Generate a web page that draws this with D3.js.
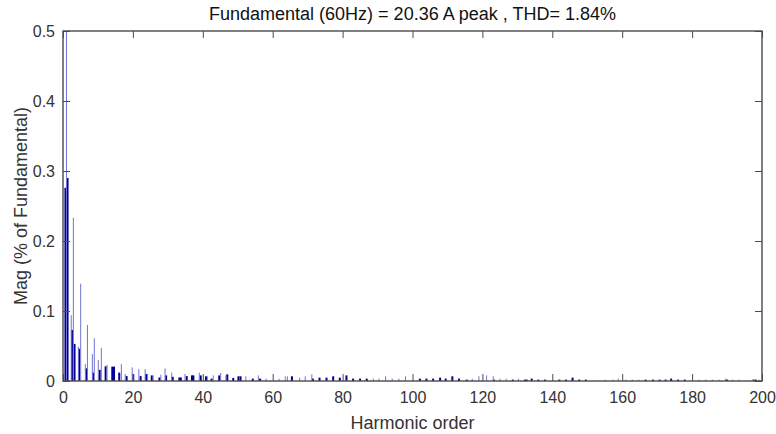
<!DOCTYPE html>
<html><head><meta charset="utf-8">
<script src="https://cdn.jsdelivr.net/npm/d3@7"></script>
<style>
body{margin:0;background:#fff}
svg{display:block}
text{font-family:"Liberation Sans",Arial,Helvetica,sans-serif}
</style>
</head><body>
<svg id="chart" width="776" height="434"></svg>
<script>
// ---- data ----
const titleText = "Fundamental (60Hz) = 20.36 A peak , THD= 1.84%";
const xLabel = "Harmonic order";
const yLabel = "Mag (% of Fundamental)";
const xTicks = [0,20,40,60,80,100,120,140,160,180,200];
const yTicks = [0,0.1,0.2,0.3,0.4,0.5];
const yTickLabels = ["0","0.1","0.2","0.3","0.4","0.5"];

// thin peaks (harmonic order, magnitude)
const peakOrder = [1.0,2.35,2.96,4.4,5.06,6.4,7.0,8.4,8.96,10.1,10.97,12.6,16.7,17.8,19.8,21.7,23.5,24.2,25.8,28.0,29.2,31.1,34.9,39.0,41.3,43.0,45.1,46.6,52.3,55.9,58.1,61.8,63.6,64.2,67.7,69.3,71.2,88.8,90.4,92.3,94.2,96.1,98.0,117.1,119.0,121.2,123.1,125.0,126.8,130.3,155.1,157.3,158.9,161.0,162.9,164.8,182.0,183.9,185.8,187.7,189.6,191.6,193.5,199.2];
const peakMag = [100,0.094,0.233,0.049,0.139,0.024,0.080,0.0386,0.061,0.030,0.047,0.023,0.024,0.010,0.0195,0.017,0.017,0.010,0.008,0.009,0.018,0.012,0.010,0.012,0.0067,0.008,0.0115,0.008,0.0067,0.008,0.0034,0.0034,0.0067,0.0067,0.0048,0.0067,0.0095,0.0034,0.0034,0.0067,0.0034,0.0034,0.0067,0.0034,0.0067,0.008,0.0067,0.0034,0.0034,0.0034,0.002,0.002,0.0034,0.002,0.002,0.002,0.002,0.002,0.002,0.002,0.0034,0.002,0.002,0.002];

// wider interharmonic bars (harmonic order, magnitude)
const sideOrder = [0.7,1.3,2.6,3.3,4.6,6.7,8.6,10.5,12.2,14.1,14.6,16.1,18.2,20.1,22.2,23.8,25.4,27.6,29.5,31.4,33.3,33.7,35.4,36.9,37.3,39.4,40.9,42.5,44.7,47.0,48.7,50.2,50.8,54.3,56.4,65.5,71.5,73.4,75.4,77.3,79.2,81.1,83.0,85.0,86.9,102.1,104.0,105.9,107.9,109.5,111.4,113.3,115.5,123.3,128.7,132.2,132.7,134.1,136.0,137.9,142.0,143.9,145.8,147.7,149.6,166.7,168.8,170.7,172.4,174.0,176.0,177.9,190.0,197.6,198.2];
const sideMag = [0.276,0.290,0.073,0.053,0.046,0.018,0.012,0.016,0.021,0.0205,0.0205,0.012,0.007,0.010,0.007,0.010,0.008,0.005,0.008,0.006,0.005,0.005,0.007,0.008,0.008,0.008,0.0067,0.0034,0.008,0.0095,0.0043,0.0067,0.0067,0.0034,0.0034,0.0067,0.0034,0.0048,0.0048,0.0067,0.0048,0.008,0.0034,0.0034,0.0034,0.0034,0.0034,0.0034,0.0048,0.0034,0.0067,0.0034,0.002,0.002,0.002,0.002,0.002,0.0034,0.002,0.002,0.002,0.002,0.0048,0.002,0.002,0.002,0.002,0.002,0.002,0.0034,0.002,0.002,0.002,0.002,0.002];

// ---- layout ----
const svg = d3.select("#chart");
const L = 63, R = 762, T = 31, B = 381;
const x = d3.scaleLinear().domain([0,200]).range([L,R]);
const y = d3.scaleLinear().domain([0,0.5]).range([B,T]);

svg.append("defs").append("clipPath").attr("id","plotclip")
  .append("rect").attr("x",L).attr("y",T).attr("width",R-L).attr("height",B-T);

const bars = svg.append("g").attr("clip-path","url(#plotclip)");

const side = sideOrder.map((h,i)=>({h, v:sideMag[i]}));
const peaks = peakOrder.map((h,i)=>({h, v:peakMag[i]}));

bars.selectAll("rect.side").data(side).enter().append("rect")
  .attr("class","side")
  .attr("x", d=>x(d.h)-1)
  .attr("width", 2)
  .attr("y", d=>y(d.v))
  .attr("height", d=>Math.max(0,y(0)-y(d.v)))
  .attr("fill","#00008f");

bars.selectAll("rect.peak").data(peaks).enter().append("rect")
  .attr("class","peak")
  .attr("x", d=>x(d.h)-0.5)
  .attr("width", 1)
  .attr("y", d=>y(d.v))
  .attr("height", d=>Math.max(0,y(0)-y(d.v)))
  .attr("fill","#7373d6");

// ---- axes ----
const axisColor = "#4a4a4a";
const tickLen = 7;

const gx = svg.append("g").attr("transform",`translate(0,${B})`)
  .call(d3.axisBottom(x).tickValues(xTicks).tickSize(-tickLen).tickPadding(11).tickFormat(d3.format("d")));
const gxt = svg.append("g").attr("transform",`translate(0,${T})`)
  .call(d3.axisTop(x).tickValues(xTicks).tickSize(-tickLen).tickFormat(""));
const gy = svg.append("g").attr("transform",`translate(${L},0)`)
  .call(d3.axisLeft(y).tickValues(yTicks).tickSize(-tickLen).tickPadding(8).tickFormat((d,i)=>yTickLabels[i]));
const gyr = svg.append("g").attr("transform",`translate(${R},0)`)
  .call(d3.axisRight(y).tickValues(yTicks).tickSize(-tickLen).tickFormat(""));

[gx,gxt,gy,gyr].forEach(g=>{
  g.select(".domain").remove();
  g.selectAll(".tick line").attr("stroke",axisColor).attr("stroke-width",1);
  g.selectAll(".tick text").attr("fill","#333").attr("font-size","16px")
    .attr("font-family",'"Liberation Sans",Arial,sans-serif');
});

svg.append("rect").attr("x",L).attr("y",T).attr("width",R-L).attr("height",B-T)
  .attr("fill","none").attr("stroke",axisColor).attr("stroke-width",1.4);

// ---- labels ----
svg.append("text").attr("x",(L+R)/2).attr("y",20).attr("text-anchor","middle")
  .attr("font-size","18px").attr("fill","#111").text(titleText);
svg.append("text").attr("x",(L+R)/2).attr("y",429).attr("text-anchor","middle")
  .attr("font-size","18px").attr("fill","#333").text(xLabel);
svg.append("text").attr("transform",`translate(27,${(T+B)/2}) rotate(-90)`).attr("text-anchor","middle")
  .attr("font-size","18px").attr("fill","#333").text(yLabel);
</script>
</body></html>
